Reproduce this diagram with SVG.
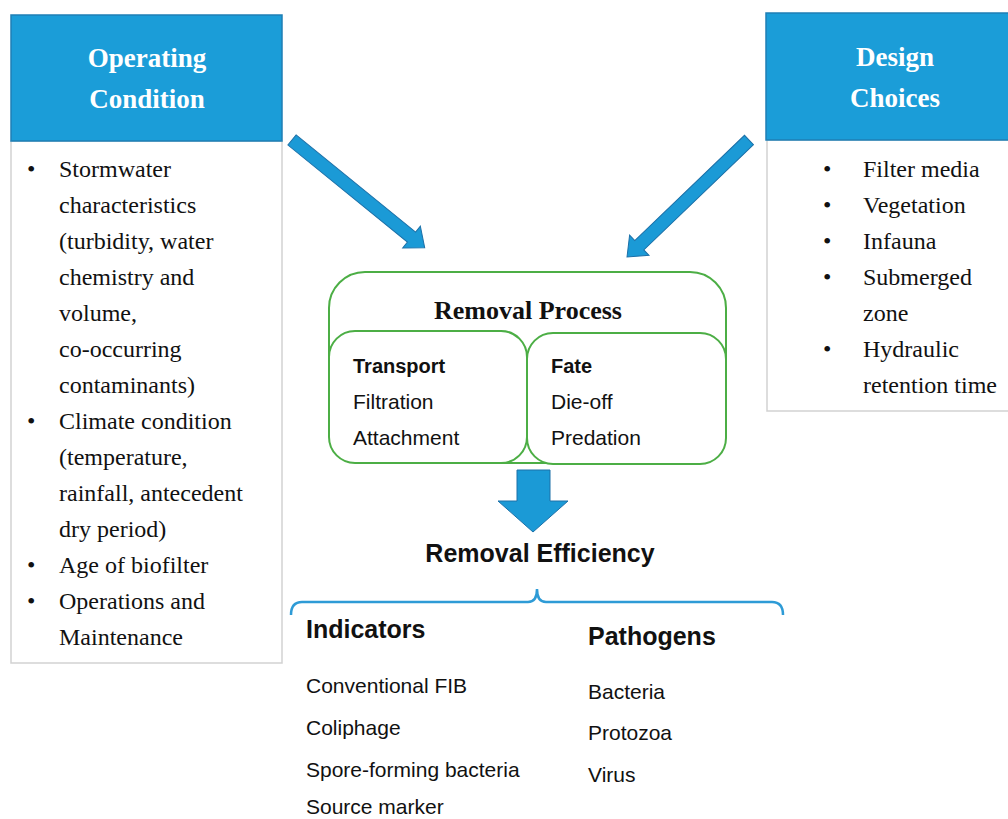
<svg xmlns="http://www.w3.org/2000/svg" width="1008" height="819" viewBox="0 0 1008 819">
<defs>
<style>
.hdr{fill:#1b9dd8;stroke:#1f7fb5;stroke-width:1.5}
.panel{fill:#fff;stroke:#d2d2d2;stroke-width:1.5}
.htxt{font-family:"Liberation Serif",serif;font-weight:bold;font-size:27px;fill:#fff;text-anchor:middle}
.li{font-family:"Liberation Serif",serif;font-size:24px;fill:#111}
.green{fill:#fff;stroke:#4cae45;stroke-width:2}
.arrow{fill:#1b9ad6;stroke:#1c70a8;stroke-width:1}
.sans{font-family:"Liberation Sans",Arial,sans-serif;fill:#111}
.sb{font-family:"Liberation Sans",Arial,sans-serif;font-weight:bold;fill:#111}
</style>
</defs>

<g id="operating-condition">
<rect class="panel" x="11" y="141" width="271" height="522"/>
<rect class="hdr" x="11" y="15" width="271" height="126"/>
<text class="htxt" x="147" y="67">Operating</text>
<text class="htxt" x="147" y="108">Condition</text>
<g class="li">
<text x="27" y="177">•</text>
<text x="59" y="177">Stormwater</text>
<text x="59" y="213">characteristics</text>
<text x="59" y="249">(turbidity, water</text>
<text x="59" y="285">chemistry and</text>
<text x="59" y="321">volume,</text>
<text x="59" y="357">co-occurring</text>
<text x="59" y="393">contaminants)</text>
<text x="27" y="429">•</text>
<text x="59" y="429">Climate condition</text>
<text x="59" y="465">(temperature,</text>
<text x="59" y="501">rainfall, antecedent</text>
<text x="59" y="537">dry period)</text>
<text x="27" y="573">•</text>
<text x="59" y="573">Age of biofilter</text>
<text x="27" y="609">•</text>
<text x="59" y="609">Operations and</text>
<text x="59" y="645">Maintenance</text>
</g>
</g>

<g id="design-choices">
<rect class="panel" x="767" y="140" width="245" height="271"/>
<rect class="hdr" x="766" y="13" width="246" height="127"/>
<text class="htxt" x="895" y="66">Design</text>
<text class="htxt" x="895" y="107">Choices</text>
<g class="li">
<text x="823" y="177">•</text>
<text x="863" y="177">Filter media</text>
<text x="823" y="213">•</text>
<text x="863" y="213">Vegetation</text>
<text x="823" y="249">•</text>
<text x="863" y="249">Infauna</text>
<text x="823" y="285">•</text>
<text x="863" y="285">Submerged</text>
<text x="863" y="321">zone</text>
<text x="823" y="357">•</text>
<text x="863" y="357">Hydraulic</text>
<text x="863" y="393">retention time</text>
</g>
</g>

<g id="removal-process">
<rect class="green" x="329" y="272" width="397" height="191" rx="36" ry="36"/>
<text x="528" y="319" font-family="Liberation Serif,serif" font-weight="bold" font-size="26" fill="#111" text-anchor="middle">Removal Process</text>
</g>
<g id="transport">
<rect class="green" x="329" y="331" width="198" height="132" rx="26" ry="26"/>
<text class="sb" x="353" y="373" font-size="20">Transport</text>
<text class="sans" x="353" y="409" font-size="21">Filtration</text>
<text class="sans" x="353" y="445" font-size="21">Attachment</text>
</g>
<g id="fate">
<rect class="green" x="527" y="333" width="199" height="131" rx="26" ry="26"/>
<text class="sb" x="551" y="373" font-size="20">Fate</text>
<text class="sans" x="551" y="409" font-size="21">Die-off</text>
<text class="sans" x="551" y="445" font-size="21">Predation</text>
</g>

<g id="removal-efficiency">
<text class="sb" x="540" y="562" font-size="25" text-anchor="middle">Removal Efficiency</text>
</g>

<g id="indicators">
<text class="sb" x="306" y="638" font-size="25">Indicators</text>
<text class="sans" x="306" y="693" font-size="21">Conventional FIB</text>
<text class="sans" x="306" y="735" font-size="21">Coliphage</text>
<text class="sans" x="306" y="777" font-size="21">Spore-forming bacteria</text>
<text class="sans" x="306" y="814" font-size="21">Source marker</text>
</g>

<g id="pathogens">
<text class="sb" x="588" y="645" font-size="25">Pathogens</text>
<text class="sans" x="588" y="699" font-size="21">Bacteria</text>
<text class="sans" x="588" y="740" font-size="21">Protozoa</text>
<text class="sans" x="588" y="782" font-size="21">Virus</text>
</g>

<g id="connectors">
<polygon class="arrow" transform="translate(292,140) rotate(39.1)" points="0,-6.5 154,-6.5 154,-14 171,0 154,14 154,6.5 0,6.5"/>
<polygon class="arrow" transform="translate(749,140) rotate(136.2)" points="0,-6.5 152,-6.5 152,-14 169,0 152,14 152,6.5 0,6.5"/>
<polygon class="arrow" points="517,470 550,470 550,501 568,501 533,532 498,501 517,501"/>
<path d="M291,615 Q291,602 302,602 L528,602 Q537,602 537,589 Q537,602 546,602 L772,602 Q783,602 783,615" fill="none" stroke="#2e9bd6" stroke-width="2.5"/>
</g>
</svg>
